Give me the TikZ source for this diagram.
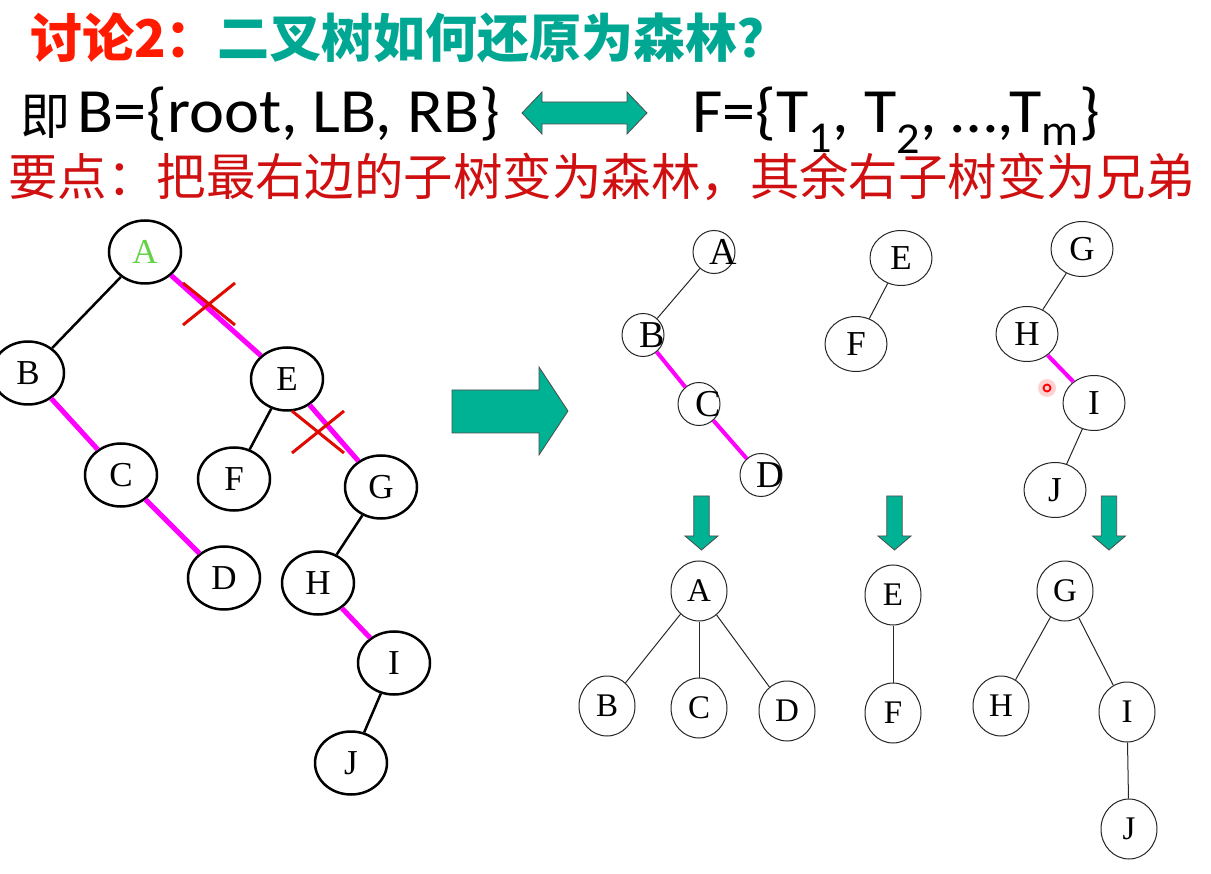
\documentclass[tikz,border=0pt]{standalone}
\usepackage{fontspec}
\usepackage{graphicx}
\setmainfont{Liberation Serif}
\newfontfamily\cjkfont{Noto Sans CJK SC}
\newfontfamily\calfont{Carlito}
\usetikzlibrary{shapes.geometric}
\definecolor{arrteal}{RGB}{0,178,148}
\definecolor{titleteal}{RGB}{0,168,148}
\definecolor{titlered}{RGB}{255,26,0}
\definecolor{notered}{RGB}{208,16,16}
\definecolor{mag}{RGB}{255,0,255}
\definecolor{xred}{RGB}{225,10,0}
\definecolor{agreen}{RGB}{100,210,70}
\tikzset{
  lnode/.style={ellipse, draw, line width=2.5pt, minimum width=72pt, minimum height=63pt, inner sep=0pt, font=\fontsize{35}{35}\selectfont},
  ledge/.style={line width=2.5pt},
  medge/.style={line width=5pt, mag},
  tedge/.style={line width=4pt, mag},
  xmark/.style={line width=3pt, xred},
  snode/.style={ellipse, draw=black!85, line width=1pt, minimum width=42pt, minimum height=43pt, inner sep=0pt},
  mnode/.style={ellipse, draw=black!85, line width=1pt, minimum width=62pt, minimum height=55pt, inner sep=0pt, font=\fontsize{35}{35}\selectfont},
  bnode/.style={ellipse, draw=black!85, line width=1pt, minimum width=56pt, minimum height=60pt, inner sep=0pt, font=\fontsize{33}{33}\selectfont},
  thin/.style={line width=1pt, black!85},
  blockarrow/.style={fill=arrteal, draw=black!70, line width=0.8pt},
  lbl/.style={font=\fontsize{38}{38}\selectfont, inner sep=0pt}
}
\begin{document}
\begin{tikzpicture}[x=1pt,y=-1pt]
\useasboundingbox (0,0) rectangle (1211,874);
\fill[white] (0,0) rectangle (1211,874);

% Title
\node[anchor=west, inner sep=0pt, font=\cjkfont\bfseries\fontsize{52}{52}\selectfont] (title) at (30,38)
  {\textcolor{titlered}{讨论2：}\textcolor{titleteal}{二叉树如何还原为森林？}};

% Line 2
\node[anchor=base west, inner sep=0pt, font=\cjkfont\fontsize{50}{50}\selectfont] (ji) at (20,135) {即};
\node[anchor=base west, inner sep=0pt, font=\calfont\fontsize{63}{63}\selectfont] (bset) at (77,133)
  {\resizebox{423pt}{\height}{B=\{root, LB, RB\}}};
\node[anchor=base west, inner sep=0pt, font=\calfont\fontsize{63}{63}\selectfont] (fset) at (692,133)
  {\resizebox{408pt}{\height}{F=\{T\textsubscript{1}, T\textsubscript{2}, \dots,T\textsubscript{m}\}}};
\draw[blockarrow] (522,113) -- (542,92) -- (542,102) -- (627,102) -- (627,92) -- (647,113) -- (627,134) -- (627,124) -- (542,124) -- (542,134) -- cycle;

% Line 3
\node[anchor=west, inner sep=0pt, font=\cjkfont\fontsize{50}{50}\selectfont, text=notered] (note) at (8,177)
  {\resizebox{1187pt}{\height}{要点：把最右边的子树变为森林，其余右子树变为兄弟}};

% Left binary tree
\node[lnode, text=agreen] (A) at (145,252) {A};
\node[lnode] (B) at (28,373) {B};
\node[lnode] (C) at (121,475) {C};
\node[lnode] (D) at (224,578) {D};
\node[lnode] (E) at (287,379) {E};
\node[lnode] (F) at (234,479) {F};
\node[lnode] (G) at (381,487) {G};
\node[lnode] (H) at (318,583) {H};
\node[lnode] (I) at (394,663) {I};
\node[lnode] (J) at (351,763) {J};
\draw[ledge] (A) -- (B);
\draw[medge] (A) -- (E);
\draw[medge] (B) -- (C);
\draw[medge] (C) -- (D);
\draw[ledge] (E) -- (F);
\draw[medge] (E) -- (G);
\draw[ledge] (G) -- (H);
\draw[medge] (H) -- (I);
\draw[ledge] (I) -- (J);
\coordinate (x1) at (209,304);
\coordinate (x2) at (318,432);
\draw[xmark] ([shift={(-26,-21)}]x1) -- ([shift={(26,21)}]x1);
\draw[xmark] ([shift={(-26,21)}]x1) -- ([shift={(26,-21)}]x1);
\draw[xmark] ([shift={(-26,-21)}]x2) -- ([shift={(26,21)}]x2);
\draw[xmark] ([shift={(-26,21)}]x2) -- ([shift={(26,-21)}]x2);

% Big right arrow
\draw[blockarrow] (452,390) -- (539,390) -- (539,367) -- (568,411) -- (539,455) -- (539,433) -- (452,433) -- cycle;

% Top right: binary subtrees
\node[snode, label={[lbl, xshift=9pt]center:A}] (tA) at (714,252) {};
\node[snode, label={[lbl, xshift=9pt]center:B}] (tB) at (643,335) {};
\node[snode, label={[lbl, xshift=9pt]center:C}] (tC) at (699,404) {};
\node[snode, label={[lbl, xshift=9pt]center:D}] (tD) at (761,475) {};
\draw[thin] (tA) -- (tB);
\draw[tedge] (tB) -- (tC);
\draw[tedge] (tC) -- (tD);

\node[mnode] (tE) at (901,258) {E};
\node[mnode] (tF) at (856,344) {F};
\draw[thin] (tE) -- (tF);

\node[mnode] (tG) at (1082,249) {G};
\node[mnode] (tH) at (1027,334) {H};
\node[mnode] (tI) at (1094,403) {I};
\node[mnode] (tJ) at (1055,490) {J};
\draw[thin] (tG) -- (tH);
\draw[tedge] (tH) -- (tI);
\draw[thin] (tI) -- (tJ);

% pointer dot
\fill[red, opacity=0.18] (1047,388) circle (9);
\draw[red, line width=1.8pt] (1047,388) circle (3.5);

% Down arrows
\foreach \cx in {701.5, 894.5, 1109} {
  \draw[blockarrow] (\cx-7.7,496) -- (\cx+7.7,496) -- (\cx+7.7,536) -- (\cx+16.5,536) -- (\cx,550) -- (\cx-16.5,536) -- (\cx-7.7,536) -- cycle;
}

% Bottom forests
\node[bnode] (bA) at (699,591) {A};
\node[bnode] (bB) at (607,706) {B};
\node[bnode] (bC) at (699,708) {C};
\node[bnode] (bD) at (787,711) {D};
\draw[thin] (bA) -- (bB);
\draw[thin] (bA) -- (bC);
\draw[thin] (bA) -- (bD);

\node[bnode] (bE) at (893,595) {E};
\node[bnode] (bF) at (893,713) {F};
\draw[thin] (bE) -- (bF);

\node[bnode] (bG) at (1065,591) {G};
\node[bnode] (bH) at (1001,706) {H};
\node[bnode] (bI) at (1127,712) {I};
\node[bnode] (bJ) at (1129,829) {J};
\draw[thin] (bG) -- (bH);
\draw[thin] (bG) -- (bI);
\draw[thin] (bI) -- (bJ);
\end{tikzpicture}
\end{document}
